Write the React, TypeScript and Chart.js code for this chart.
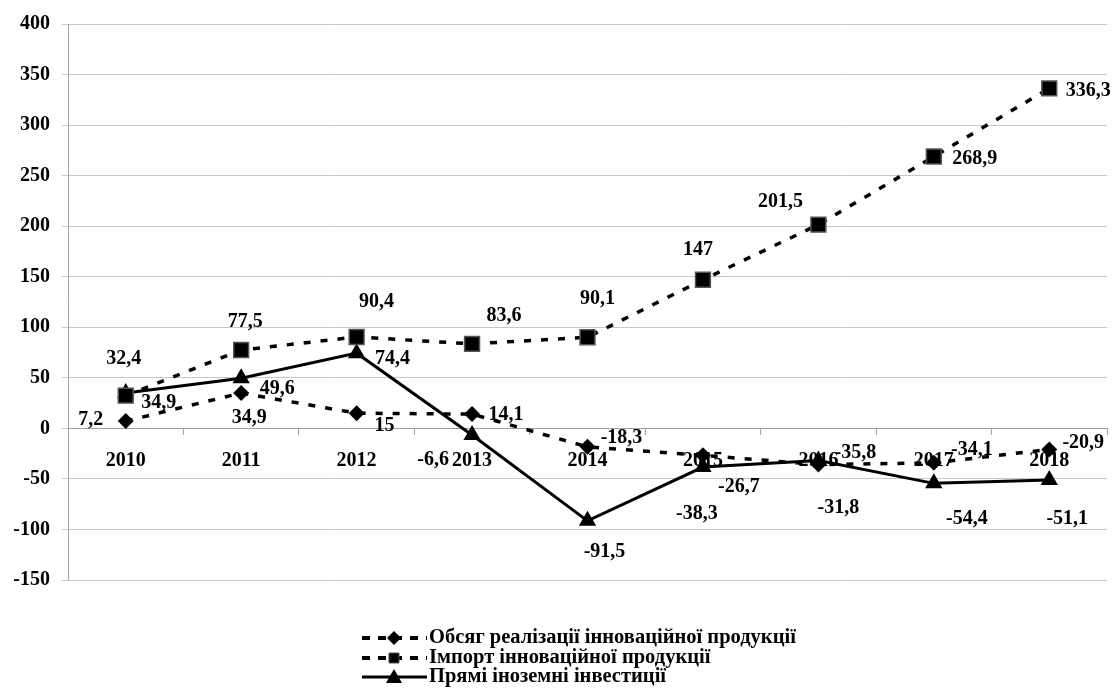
import { useEffect, useRef } from "react";
import { Chart, registerables } from "chart.js";

Chart.register(...registerables);

const years = ["2010", "2011", "2012", "2013", "2014", "2015", "2016", "2017", "2018"];
const salesValues = [7.2, 34.9, 15, 14.1, -18.3, -26.7, -35.8, -34.1, -20.9];
const importValues = [32.4, 77.5, 90.4, 83.6, 90.1, 147, 201.5, 268.9, 336.3];
const fdiValues = [34.9, 49.6, 74.4, -6.6, -91.5, -38.3, -31.8, -54.4, -51.1];
const seriesNames = [
  "Обсяг реалізації інноваційної продукції",
  "Імпорт інноваційної продукції",
  "Прямі іноземні інвестиції",
];
const yMin = -150;
const yMax = 400;
const yStep = 50;

// label placement offsets (px) relative to each marker
const salesLabelOffsets = [[-35, -1], [8, 25], [28, 13], [34, 1], [34, -9], [36, 31], [37, -12], [38, -13], [34, -7]];
const importLabelOffsets = [[-2, -37], [4, -28], [20, -35], [32, -28], [10, -38], [-5, -30], [-38, -23], [41, 2], [39, 2]];
const fdiLabelOffsets = [[33, 10], [36, 11], [36, 6], [-39, 25], [17, 31], [-6, 47], [20, 47], [33, 35], [18, 39]];

const FONT = "'Liberation Serif', 'Times New Roman', serif";
const fmt = (v: number) => String(v).replace(".", ",");

const dataLabelsPlugin = {
  id: "dataLabels",
  afterDatasetsDraw(chart: any) {
    const ctx = chart.ctx;
    const offsets = [salesLabelOffsets, importLabelOffsets, fdiLabelOffsets];
    ctx.save();
    ctx.font = `bold 20px ${FONT}`;
    ctx.fillStyle = "#000";
    ctx.textAlign = "center";
    ctx.textBaseline = "middle";
    chart.data.datasets.forEach((ds: any, di: number) => {
      const meta = chart.getDatasetMeta(di);
      meta.data.forEach((pt: any, i: number) => {
        const off = offsets[di][i];
        ctx.fillText(fmt(ds.data[i]), pt.x + off[0], pt.y + off[1]);
      });
    });
    ctx.restore();
  },
};

const legendPlugin = {
  id: "customLegend",
  afterDraw(chart: any) {
    const ctx = chart.ctx;
    const rowsY = [638, 658, 677];
    const x0 = 362;
    const x1 = 427;
    const cx = 394;
    ctx.save();
    rowsY.forEach((y, i) => {
      ctx.strokeStyle = "#000";
      ctx.lineWidth = i === 2 ? 3 : 4;
      ctx.setLineDash(i === 2 ? [] : [8, 8]);
      ctx.beginPath();
      ctx.moveTo(x0, y);
      ctx.lineTo(x1, y);
      ctx.stroke();
      ctx.setLineDash([]);
      ctx.fillStyle = "#000";
      ctx.beginPath();
      if (i === 0) {
        ctx.moveTo(cx, y - 7);
        ctx.lineTo(cx + 7, y);
        ctx.lineTo(cx, y + 7);
        ctx.lineTo(cx - 7, y);
        ctx.closePath();
        ctx.fill();
      } else if (i === 1) {
        ctx.rect(cx - 5, y - 5, 10, 10);
        ctx.fill();
        ctx.strokeStyle = "#555";
        ctx.lineWidth = 1;
        ctx.stroke();
      } else {
        ctx.moveTo(cx, y - 8);
        ctx.lineTo(cx + 8, y + 6);
        ctx.lineTo(cx - 8, y + 6);
        ctx.closePath();
        ctx.fill();
      }
      ctx.font = `bold 20.5px ${FONT}`;
      ctx.textAlign = "left";
      ctx.textBaseline = "middle";
      ctx.fillStyle = "#000";
      ctx.fillText(seriesNames[i], x1 + 2, y);
    });
    ctx.restore();
  },
};

export default function App() {
  const canvasRef = useRef<HTMLCanvasElement | null>(null);

  useEffect(() => {
    if (!canvasRef.current) return;
    const chart = new Chart(canvasRef.current, {
      type: "line",
      data: {
        labels: years,
        datasets: [
          {
            label: seriesNames[0],
            data: salesValues,
            borderColor: "#000",
            backgroundColor: "#000",
            borderWidth: 3.5,
            borderDash: [7, 10],
            pointStyle: "rectRot",
            pointRadius: 8,
            pointHoverRadius: 8,
            pointBackgroundColor: "#000",
            pointBorderColor: "#000",
            pointBorderWidth: 0,
            tension: 0,
          },
          {
            label: seriesNames[1],
            data: importValues,
            borderColor: "#000",
            backgroundColor: "#000",
            borderWidth: 3.5,
            borderDash: [7, 10],
            pointStyle: "rect",
            pointRadius: 10.5,
            pointHoverRadius: 10.5,
            pointBackgroundColor: "#000",
            pointBorderColor: "#555",
            pointBorderWidth: 1.5,
            tension: 0,
          },
          {
            label: seriesNames[2],
            data: fdiValues,
            borderColor: "#000",
            backgroundColor: "#000",
            borderWidth: 3,
            pointStyle: "triangle",
            pointRadius: 10,
            pointHoverRadius: 10,
            pointBackgroundColor: "#000",
            pointBorderColor: "#000",
            pointBorderWidth: 0,
            tension: 0,
          },
        ],
      },
      options: {
        animation: false,
        responsive: true,
        maintainAspectRatio: false,
        layout: { padding: { left: 0, right: 7, top: 19, bottom: 111 } },
        plugins: {
          legend: { display: false },
          tooltip: { enabled: false },
        },
        scales: {
          x: {
            type: "category",
            position: { y: 0 } as any,
            offset: true,
            grid: {
              display: true,
              drawOnChartArea: false,
              drawTicks: true,
              tickLength: 6,
              color: "#a0a0a0",
              offset: true,
            },
            border: { display: true, color: "#a0a0a0", width: 1 },
            ticks: {
              color: "#000",
              font: { family: FONT, size: 20, weight: "bold" },
              padding: 14,
              maxRotation: 0,
              autoSkip: false,
            },
          },
          y: {
            min: yMin,
            max: yMax,
            afterFit: (scale: any) => {
              scale.width = 68;
            },
            grid: {
              color: "#c8c8c8",
              lineWidth: 1,
              drawTicks: true,
              tickLength: 6,
            },
            border: { display: true, color: "#a0a0a0", width: 1 },
            ticks: {
              stepSize: yStep,
              color: "#000",
              font: { family: FONT, size: 20, weight: "bold" },
              padding: 12,
            },
          },
        },
      },
      plugins: [dataLabelsPlugin, legendPlugin],
    });
    return () => chart.destroy();
  }, []);

  return (
    <div style={{ position: "fixed", left: 0, top: 0, width: 1119, height: 691, background: "#fff" }}>
      <canvas ref={canvasRef} />
    </div>
  );
}
